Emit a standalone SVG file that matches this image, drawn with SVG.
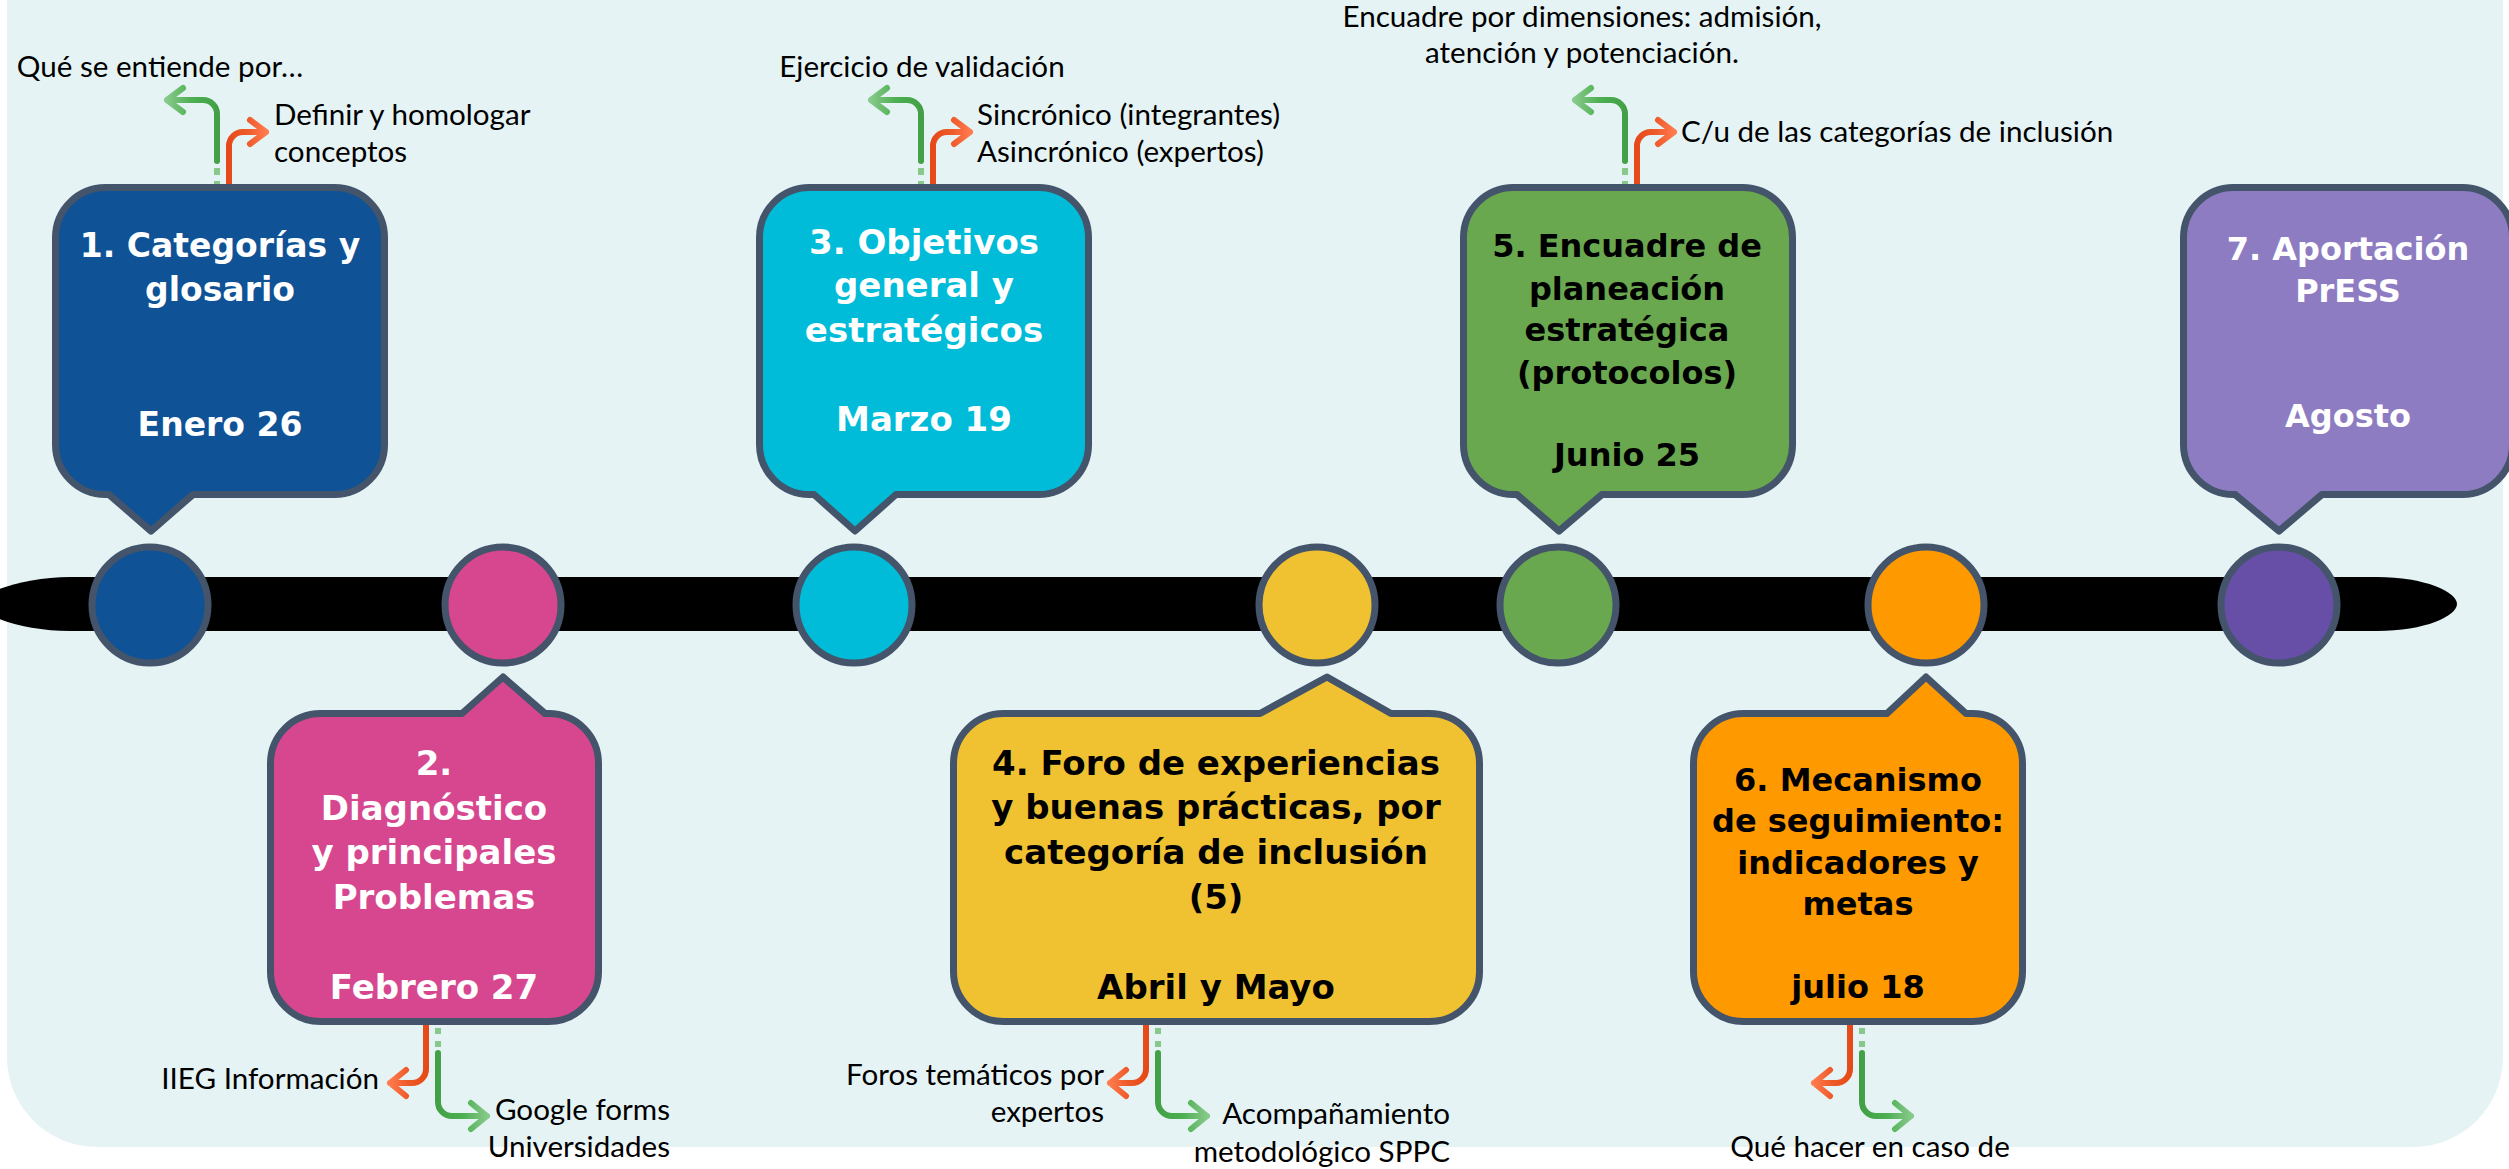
<svg xmlns="http://www.w3.org/2000/svg" width="2509" height="1169" viewBox="0 0 2509 1169">
<style>
.box{stroke:#44546a;stroke-width:7;stroke-linejoin:round}
.dot{stroke:#44546a;stroke-width:7}
.h{font-family:"DejaVu Sans",sans-serif;font-weight:bold;text-anchor:middle}
.w{fill:#ffffff}
.k{fill:#000000}
.lbl{font-family:Lato,"Liberation Sans",sans-serif;font-size:29.6px;fill:#000000}
.ar{fill:none;stroke-width:6;stroke-linecap:round;stroke-linejoin:round}
.dash{fill:none;stroke:#86c98a;stroke-width:6}
</style>
<defs>
<linearGradient id="gL" x1="1" y1="0" x2="0" y2="0"><stop offset="0" stop-color="#43a047"/><stop offset="0.5" stop-color="#4caf50"/><stop offset="1" stop-color="#86c98a"/></linearGradient>
<linearGradient id="gR" x1="0" y1="0" x2="1" y2="0"><stop offset="0" stop-color="#43a047"/><stop offset="0.5" stop-color="#4caf50"/><stop offset="1" stop-color="#86c98a"/></linearGradient>
<linearGradient id="oL" x1="1" y1="0" x2="0" y2="0"><stop offset="0" stop-color="#e64a19"/><stop offset="0.5" stop-color="#ee5a2a"/><stop offset="1" stop-color="#ff7a4d"/></linearGradient>
<linearGradient id="oR" x1="0" y1="0" x2="1" y2="0"><stop offset="0" stop-color="#e64a19"/><stop offset="0.5" stop-color="#ee5a2a"/><stop offset="1" stop-color="#ff7a4d"/></linearGradient>
</defs>
<rect x="0" y="0" width="2509" height="1169" fill="#ffffff"/>
<rect id="background" x="7" y="-120" width="2496" height="1267" rx="90" ry="90" fill="#e5f3f4"/>
<path id="timeline-bar" d="M70,577 L2377,577 C2425,577 2457,592 2457,604 C2457,616 2425,631 2377,631 L70,631 C25,631 -20,616 -20,604 C-20,592 25,577 70,577 Z" fill="#000000"/>

<g id="connectors">
  <!-- top fork 1 -->
  <path class="dash" d="M217,187 V181 M217,175 V168"/>
  <path class="ar" stroke="url(#gL)" d="M217,161 V114 A14,14 0 0 0 203,100 H167 M183,88 L167,100 L183,112"/>
  <path class="ar" stroke="url(#oR)" d="M229,187 V146 A14,14 0 0 1 243,132 H266 M250,120 L266,132 L250,144"/>
  <!-- top fork 3 -->
  <path class="dash" d="M921,187 V181 M921,175 V168"/>
  <path class="ar" stroke="url(#gL)" d="M921,161 V114 A14,14 0 0 0 907,100 H871 M887,88 L871,100 L887,112"/>
  <path class="ar" stroke="url(#oR)" d="M933,187 V146 A14,14 0 0 1 947,132 H970 M954,120 L970,132 L954,144"/>
  <!-- top fork 5 -->
  <path class="dash" d="M1625,187 V181 M1625,175 V168"/>
  <path class="ar" stroke="url(#gL)" d="M1625,161 V114 A14,14 0 0 0 1611,100 H1575 M1591,88 L1575,100 L1591,112"/>
  <path class="ar" stroke="url(#oR)" d="M1637,187 V146 A14,14 0 0 1 1651,132 H1674 M1658,120 L1674,132 L1658,144"/>
  <!-- bottom fork 2 -->
  <path class="ar" stroke="url(#oL)" d="M426,1025 V1069 A14,14 0 0 1 412,1083 H390 M406,1070 L390,1083 L406,1096"/>
  <path class="dash" d="M438,1028 V1034 M438,1041 V1047"/>
  <path class="ar" stroke="url(#gR)" d="M438,1053 V1102 A14,14 0 0 0 452,1116 H487 M471,1103 L487,1116 L471,1129"/>
  <!-- bottom fork 4 -->
  <path class="ar" stroke="url(#oL)" d="M1146,1025 V1069 A14,14 0 0 1 1132,1083 H1110 M1126,1070 L1110,1083 L1126,1096"/>
  <path class="dash" d="M1158,1028 V1034 M1158,1041 V1047"/>
  <path class="ar" stroke="url(#gR)" d="M1158,1053 V1102 A14,14 0 0 0 1172,1116 H1207 M1191,1103 L1207,1116 L1191,1129"/>
  <!-- bottom fork 6 -->
  <path class="ar" stroke="url(#oL)" d="M1850,1025 V1069 A14,14 0 0 1 1836,1083 H1814 M1830,1070 L1814,1083 L1830,1096"/>
  <path class="dash" d="M1862,1028 V1034 M1862,1041 V1047"/>
  <path class="ar" stroke="url(#gR)" d="M1862,1053 V1102 A14,14 0 0 0 1876,1116 H1911 M1895,1103 L1911,1116 L1895,1129"/>
</g>

<g id="labels">
  <text class="lbl" x="160" y="77" text-anchor="middle">Qué se entiende por…</text>
  <text class="lbl" x="274" y="125">Definir y homologar</text>
  <text class="lbl" x="274" y="162">conceptos</text>
  <text class="lbl" x="922" y="77" text-anchor="middle">Ejercicio de validación</text>
  <text class="lbl" x="977" y="125">Sincrónico (integrantes)</text>
  <text class="lbl" x="977" y="162">Asincrónico (expertos)</text>
  <text class="lbl" x="1582" y="27" text-anchor="middle">Encuadre por dimensiones: admisión,</text>
  <text class="lbl" x="1582" y="63" text-anchor="middle">atención y potenciación.</text>
  <text class="lbl" x="1681" y="142">C/u de las categorías de inclusión</text>
  <text class="lbl" x="379" y="1089" text-anchor="end">IIEG Información</text>
  <text class="lbl" x="670" y="1120" text-anchor="end">Google forms</text>
  <text class="lbl" x="670" y="1157" text-anchor="end">Universidades</text>
  <text class="lbl" x="1104" y="1085" text-anchor="end">Foros temáticos por</text>
  <text class="lbl" x="1104" y="1122" text-anchor="end">expertos</text>
  <text class="lbl" x="1450" y="1124" text-anchor="end">Acompañamiento</text>
  <text class="lbl" x="1450" y="1162" text-anchor="end">metodológico SPPC</text>
  <text class="lbl" x="1870" y="1157" text-anchor="middle">Qué hacer en caso de</text>
</g>

<g id="node-1">
  <circle class="dot" cx="150" cy="605" r="58" fill="#0f5296"/>
  <path class="box" fill="#0f5296" d="M105.5,187.5 H334.5 A50,50 0 0 1 384.5,237.5 V444.5 A50,50 0 0 1 334.5,494.5 H193 L151,531 L109,494.5 H105.5 A50,50 0 0 1 55.5,444.5 V237.5 A50,50 0 0 1 105.5,187.5 Z"/>
  <text class="h w" font-size="33"><tspan x="220" y="257">1. Categorías y</tspan><tspan x="220" y="301">glosario</tspan><tspan x="220" y="436">Enero 26</tspan></text>
</g>

<g id="node-2">
  <circle class="dot" cx="503" cy="605" r="58" fill="#d6478f"/>
  <path class="box" fill="#d6478f" d="M320.5,713.5 H462 L503,677 L545,713.5 H548.5 A50,50 0 0 1 598.5,763.5 V971.5 A50,50 0 0 1 548.5,1021.5 H320.5 A50,50 0 0 1 270.5,971.5 V763.5 A50,50 0 0 1 320.5,713.5 Z"/>
  <text class="h w" font-size="34"><tspan x="434" y="775">2.</tspan><tspan x="434" y="820">Diagnóstico</tspan><tspan x="434" y="864">y principales</tspan><tspan x="434" y="909">Problemas</tspan><tspan x="434" y="999">Febrero 27</tspan></text>
</g>

<g id="node-3">
  <circle class="dot" cx="854" cy="605" r="58" fill="#00bcd8"/>
  <path class="box" fill="#00bcd8" d="M809.5,187.5 H1038.5 A50,50 0 0 1 1088.5,237.5 V444.5 A50,50 0 0 1 1038.5,494.5 H896 L855,531 L814,494.5 H809.5 A50,50 0 0 1 759.5,444.5 V237.5 A50,50 0 0 1 809.5,187.5 Z"/>
  <text class="h w" font-size="34"><tspan x="924" y="254">3. Objetivos</tspan><tspan x="924" y="297">general y</tspan><tspan x="924" y="342">estratégicos</tspan><tspan x="924" y="431">Marzo 19</tspan></text>
</g>

<g id="node-4">
  <circle class="dot" cx="1317" cy="605" r="58" fill="#f0c232"/>
  <path class="box" fill="#f0c232" d="M1003.5,713.5 H1260 L1327,677 L1391,713.5 H1429.5 A50,50 0 0 1 1479.5,763.5 V971.5 A50,50 0 0 1 1429.5,1021.5 H1003.5 A50,50 0 0 1 953.5,971.5 V763.5 A50,50 0 0 1 1003.5,713.5 Z"/>
  <text class="h k" font-size="34"><tspan x="1216" y="775">4. Foro de experiencias</tspan><tspan x="1216" y="819">y buenas prácticas, por</tspan><tspan x="1216" y="864">categoría de inclusión</tspan><tspan x="1216" y="909">(5)</tspan><tspan x="1216" y="999">Abril y Mayo</tspan></text>
</g>

<g id="node-5">
  <circle class="dot" cx="1558" cy="605" r="58" fill="#6aa84f"/>
  <path class="box" fill="#6aa84f" d="M1513.5,187.5 H1742.5 A50,50 0 0 1 1792.5,237.5 V444.5 A50,50 0 0 1 1742.5,494.5 H1602 L1559,531 L1517,494.5 H1513.5 A50,50 0 0 1 1463.5,444.5 V237.5 A50,50 0 0 1 1513.5,187.5 Z"/>
  <text class="h k" font-size="32"><tspan x="1627" y="257">5. Encuadre de</tspan><tspan x="1627" y="300">planeación</tspan><tspan x="1627" y="341">estratégica</tspan><tspan x="1627" y="384">(protocolos)</tspan><tspan x="1627" y="466">Junio 25</tspan></text>
</g>

<g id="node-6">
  <circle class="dot" cx="1926" cy="605" r="58" fill="#ff9900"/>
  <path class="box" fill="#ff9900" d="M1743.5,713.5 H1887 L1926,677 L1966,713.5 H1972.5 A50,50 0 0 1 2022.5,763.5 V971.5 A50,50 0 0 1 1972.5,1021.5 H1743.5 A50,50 0 0 1 1693.5,971.5 V763.5 A50,50 0 0 1 1743.5,713.5 Z"/>
  <text class="h k" font-size="32"><tspan x="1858" y="791">6. Mecanismo</tspan><tspan x="1858" y="832">de seguimiento:</tspan><tspan x="1858" y="874">indicadores y</tspan><tspan x="1858" y="915">metas</tspan><tspan x="1858" y="998">julio 18</tspan></text>
</g>

<g id="node-7">
  <circle class="dot" cx="2279" cy="605" r="58" fill="#674ea7"/>
  <path class="box" fill="#8e7cc3" d="M2233.5,187.5 H2462.5 A50,50 0 0 1 2512.5,237.5 V444.5 A50,50 0 0 1 2462.5,494.5 H2322 L2279,531 L2235,494.5 H2233.5 A50,50 0 0 1 2183.5,444.5 V237.5 A50,50 0 0 1 2233.5,187.5 Z"/>
  <text class="h w" font-size="32"><tspan x="2348" y="260">7. Aportación</tspan><tspan x="2348" y="302">PrESS</tspan><tspan x="2348" y="427">Agosto</tspan></text>
</g>
</svg>
